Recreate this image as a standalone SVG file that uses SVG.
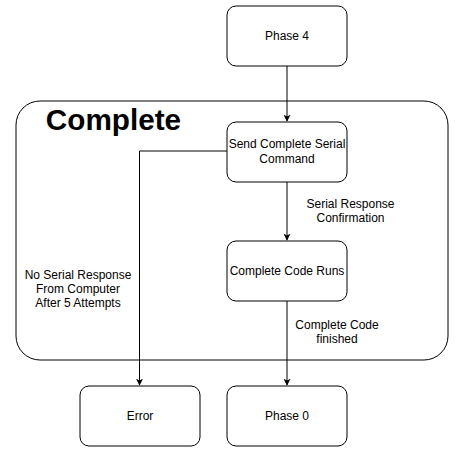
<svg xmlns="http://www.w3.org/2000/svg" width="465" height="462" viewBox="0 0 465 462">
<style>
.box{fill:#fff;stroke:#000;stroke-width:1}
.t{font-family:"Liberation Sans",Arial,sans-serif;font-size:12px;fill:#000;text-anchor:middle}
.l{font-family:"Liberation Sans",Arial,sans-serif;font-size:12px;fill:#000;text-anchor:middle}
.c{fill:none;stroke:#000;stroke-width:1}
</style>
<defs>
<marker id="ah" viewBox="0 0 10 10" refX="9" refY="5" markerWidth="7" markerHeight="7" markerUnits="userSpaceOnUse" orient="auto">
<path d="M0,0 L10,5 L0,10 L2.5,5 Z" fill="#000"/>
</marker>
</defs>
<rect x="0" y="0" width="465" height="462" fill="#fff"/>
<g id="container">
<rect x="16" y="101" width="432" height="259" rx="24" ry="24" class="box"/>
<text x="113.5" y="130" font-family="'Liberation Sans',Arial,sans-serif" font-size="29.7" font-weight="bold" text-anchor="middle">Complete</text>
</g>
<g id="connectors">
<path d="M287,66 V121" class="c" marker-end="url(#ah)"/>
<path d="M287,182 V240" class="c" marker-end="url(#ah)"/>
<path d="M287,301 V385" class="c" marker-end="url(#ah)"/>
<path d="M227,151 H139.5 V385" class="c" marker-end="url(#ah)"/>
<text class="l" x="350.5" y="208">Serial Response</text>
<text class="l" x="350.5" y="222">Confirmation</text>
<text class="l" x="337" y="329">Complete Code</text>
<text class="l" x="337" y="343">finished</text>
<text class="l" x="78" y="279">No Serial Response</text>
<text class="l" x="78" y="293">From Computer</text>
<text class="l" x="78" y="307">After 5 Attempts</text>
</g>
<g id="phase4">
<rect x="227" y="6" width="120" height="60" rx="9" class="box"/>
<text class="t" x="287" y="40">Phase 4</text>
</g>
<g id="send">
<rect x="227" y="122" width="120" height="60" rx="9" class="box"/>
<text class="t" x="287" y="148">Send Complete Serial</text>
<text class="t" x="287" y="163">Command</text>
</g>
<g id="runs">
<rect x="227" y="241" width="120" height="60" rx="9" class="box"/>
<text class="t" x="287" y="275">Complete Code Runs</text>
</g>
<g id="error">
<rect x="80" y="386" width="120" height="60" rx="9" class="box"/>
<text class="t" x="140" y="420">Error</text>
</g>
<g id="phase0">
<rect x="227" y="386" width="120" height="60" rx="9" class="box"/>
<text class="t" x="287" y="420">Phase 0</text>
</g>
</svg>
